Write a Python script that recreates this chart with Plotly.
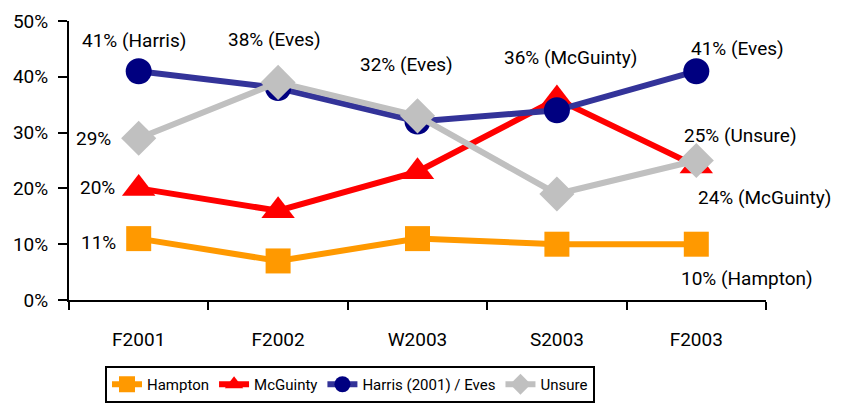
import plotly.graph_objects as go

categories = ["F2001", "F2002", "W2003", "S2003", "F2003"]
hampton = [11, 7, 11, 10, 10]
mcguinty = [20, 16, 23, 36, 24]
harris_eves = [41, 38, 32, 34, 41]
unsure = [29, 39, 33, 19, 25]

series_names = ["Hampton", "McGuinty", "Harris (2001) / Eves", "Unsure"]

# annotation texts and which series/category they belong to
ann_texts = ["41% (Harris)", "38% (Eves)", "32% (Eves)", "36% (McGuinty)", "41% (Eves)",
             "29%", "20%", "11%", "25% (Unsure)", "24% (McGuinty)", "10% (Hampton)"]
ann_series = ["harris", "harris", "harris", "mcguinty", "harris",
              "unsure", "mcguinty", "hampton", "unsure", "mcguinty", "hampton"]
ann_cat = [0, 1, 2, 3, 4, 0, 0, 0, 4, 4, 4]
ann_shift = [(-5, 31), (-4, 48), (-11, 57), (14, 42), (41, 23),
             (-45, 0), (-41, 1), (-40, -4), (44, 25), (68, -31), (51, -34)]

data = {"hampton": hampton, "mcguinty": mcguinty, "harris": harris_eves, "unsure": unsure}

FONT = "Roboto, sans-serif"

fig = go.Figure()
fig.add_trace(go.Scatter(x=categories, y=hampton, name=series_names[0], mode="lines+markers",
                         line=dict(color="#FF9900", width=6),
                         marker=dict(symbol="square", size=25, color="#FF9900")))
fig.add_trace(go.Scatter(x=categories, y=mcguinty, name=series_names[1], mode="lines+markers",
                         line=dict(color="#FF0000", width=6),
                         marker=dict(symbol="triangle-up", size=29, color="#FF0000")))
fig.add_trace(go.Scatter(x=categories, y=harris_eves, name=series_names[2], mode="lines+markers",
                         line=dict(color="#333399", width=6),
                         marker=dict(symbol="circle", size=26, color="#000080")))
fig.add_trace(go.Scatter(x=categories, y=unsure, name=series_names[3], mode="lines+markers",
                         line=dict(color="#C0C0C0", width=6),
                         marker=dict(symbol="diamond", size=27, color="#C0C0C0")))

for t, s, c, (dx, dy) in zip(ann_texts, ann_series, ann_cat, ann_shift):
    fig.add_annotation(x=categories[c], y=data[s][c], text=t, showarrow=False,
                       xshift=dx, yshift=dy, font=dict(size=19, color="#000000", family=FONT))

fig.update_layout(
    width=848, height=411,
    margin=dict(l=69, r=82, t=21, b=111),
    paper_bgcolor="white", plot_bgcolor="white",
    font=dict(family=FONT, size=19, color="#000000"),
    showlegend=True,
    legend=dict(orientation="h", xref="container", yref="container",
                x=105 / 848, xanchor="left", y=(411 - 366) / 411, yanchor="top",
                bordercolor="#000000", borderwidth=2, font=dict(size=15, family=FONT),
                itemwidth=30, tracegroupgap=0),
    xaxis=dict(type="category", range=[-0.5, 4.5], showline=True, linecolor="#000000",
               linewidth=2, ticks="outside", tickson="boundaries", ticklen=8,
               tickwidth=2, tickcolor="#000000", showgrid=False, zeroline=False,
               ticklabelstandoff=21, tickfont=dict(size=19), automargin=False),
    yaxis=dict(range=[0, 50], dtick=10, ticksuffix="%", showline=True, linecolor="#000000",
               linewidth=2, ticks="outside", ticklen=9, tickwidth=2, tickcolor="#000000",
               showgrid=False, zeroline=False, tickfont=dict(size=19), automargin=False,
               ticklabelstandoff=6),
)

fig.write_html("out.html", config={"displayModeBar": False},
               post_script="document.body.style.margin='0';document.body.style.overflow='hidden';")
